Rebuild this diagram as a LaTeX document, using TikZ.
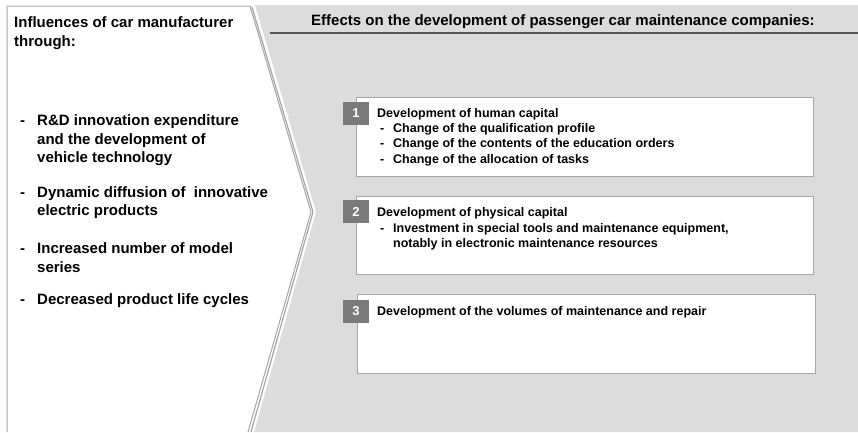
\documentclass[tikz,border=0pt]{standalone}
\usepackage{fontspec}
\setmainfont{Liberation Sans}
\usepackage{tikz}

\definecolor{panelgray}{HTML}{DCDCDC}
\definecolor{framegray}{HTML}{A6A6A6}
\definecolor{badgegray}{HTML}{7A7A7A}
\definecolor{rulegray}{HTML}{555555}

\tikzset{
    lefttext/.style={anchor=base west, inner sep=0pt, font=\fontsize{15}{19}\selectfont\bfseries},
    boxtext/.style={anchor=base west, inner sep=0pt, font=\fontsize{12.5}{15}\selectfont\bfseries},
    effectbox/.style={draw=framegray, line width=1.2pt, fill=white, anchor=north west,
                      inner sep=0pt, minimum width=457pt, minimum height=79pt},
    badge/.style={fill=badgegray, text=white, inner sep=0pt, minimum width=26pt,
                  minimum height=23pt, font=\fontsize{13}{13}\selectfont\bfseries}
}

\begin{document}
\begin{tikzpicture}[x=1pt,y=-1pt]
    \useasboundingbox (0,0) rectangle (858,432);

    % grey panel on the right, notched on its left side
    \fill[panelgray] (255,5) -- (858,5) -- (858,432) -- (254,432) -- (316,212) -- cycle;

    % white arrow panel on the left
    \fill[white] (7,6) -- (250,6) -- (311,212) -- (248,432) -- (7,432) -- cycle;
    \draw[gray!70, line width=1.2pt] (252,7) -- (313,212) -- (251,432);
    \draw[framegray, line width=1pt] (7,432) -- (7,6) -- (250,6) -- (311,212) -- (248,432);

    % heading and rule
    \node[anchor=base west, inner sep=0pt, font=\fontsize{15}{18}\selectfont\bfseries]
        (effects) at (311,25) {Effects on the development of passenger car maintenance companies:};
    \draw[rulegray, line width=1.5pt] (270,33) -- (858,33);

    % influences
    \node[lefttext] (infl) at (14,27) {Influences of car manufacturer};
    \node[lefttext] (thr) at (14,46) {through:};
    \foreach \y in {125,197,253,304}
        \node[lefttext] (dash\y) at (20,\y) {-};
    \foreach \y/\txt in {125/R\&D innovation expenditure, 144/and the development of,
                         162/vehicle technology, 197/Dynamic diffusion of \ innovative,
                         215/electric products, 253/Increased number of model,
                         272/series, 304/Decreased product life cycles}
        \node[lefttext] (infl\y) at (37,\y) {\txt};

    % effect boxes
    \node[effectbox] (box1) at (356,97) {};
    \node[effectbox, minimum height=78pt] (box2) at (356,196) {};
    \node[effectbox, minimum width=458pt] (box3) at (357,294) {};
    \node[badge] (num1) at (356,113) {1};
    \node[badge] (num2) at (356,211.5) {2};
    \node[badge] (num3) at (356,311) {3};

    \node[boxtext] (title1) at (377,117) {Development of human capital};
    \node[boxtext] (title2) at (377,216) {Development of physical capital};
    \node[boxtext] (title3) at (377,315) {Development of the volumes of maintenance and repair};

    \foreach \y in {132,147,163,232}
        \node[boxtext] (bdash\y) at (380,\y) {-};
    \foreach \y/\txt in {132/Change of the qualification profile,
                         147/Change of the contents of the education orders,
                         163/Change of the allocation of tasks,
                         232/{Investment in special tools and maintenance equipment,},
                         247/notably in electronic maintenance resources}
        \node[boxtext] (item\y) at (393,\y) {\txt};
\end{tikzpicture}
\end{document}
